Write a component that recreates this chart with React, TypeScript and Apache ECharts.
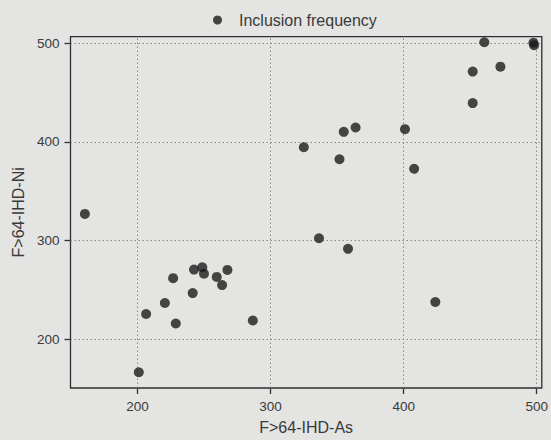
import React, { useEffect, useRef } from "react";
import * as echarts from "echarts";

// Inclusion frequency: F>64-IHD-As (x) against F>64-IHD-Ni (y)
const asValues = [
  160.5, 206.5, 201, 242.5, 248.7, 250, 226.8, 259.6, 267.6, 263.6, 241.5, 220.6, 228.8, 286.7,
  460.6, 497.5, 498, 451.9, 472.7, 451.9, 355, 363.9, 401, 325, 351.8, 407.9, 336.4, 358.2, 423.8,
];
const niValues = [
  327, 225.5, 166.5, 270.5, 272.8, 266.4, 261.8, 263.1, 270.2, 254.8, 246.7, 236.7, 215.9, 218.9,
  501, 500.5, 498, 471.2, 476.2, 439.3, 410.2, 414.6, 412.9, 394.5, 382.4, 372.7, 302.3, 291.6, 237.7,
];
const tickValues = [200, 300, 400, 500];
const seriesName = "Inclusion frequency";
const xName = "F>64-IHD-As";
const yName = "F>64-IHD-Ni";

const FONT = "'Liberation Sans', Arial, sans-serif";
const TEXT = "#3a3a3a";

export default function App() {
  const ref = useRef<HTMLDivElement>(null);

  useEffect(() => {
    document.body.style.margin = "0";
    if (!ref.current) return;
    const chart = echarts.init(ref.current, undefined, { renderer: "svg" });

    const points = asValues.map((x, i) => [x, niValues[i]]);
    const gridLines = [
      ...tickValues.map((v) => ({ xAxis: v })),
      ...tickValues.map((v) => ({ yAxis: v })),
    ];

    chart.setOption({
      animation: false,
      backgroundColor: "#e4e4e2",
      textStyle: { fontFamily: FONT },
      legend: {
        data: [seriesName],
        left: 208,
        top: 7,
        icon: "circle",
        itemWidth: 29,
        itemHeight: 9,
        itemGap: 0,
        textStyle: { fontSize: 16, color: TEXT, fontFamily: FONT, padding: [0, 0, 0, 2] },
      },
      grid: {
        left: 70.5,
        right: 5.3,
        top: 36.7,
        bottom: 49,
        show: true,
        borderColor: "#2e2e2e",
        borderWidth: 1.3,
        backgroundColor: "transparent",
      },
      xAxis: {
        type: "value",
        min: 149.7,
        max: 503.8,
        name: xName,
        nameLocation: "middle",
        nameGap: 31,
        nameTextStyle: { fontSize: 16, color: TEXT, fontFamily: FONT },
        axisLine: { show: false },
        axisTick: {
          show: true,
          customValues: tickValues,
          length: 6,
          lineStyle: { color: "#333", width: 1.3 },
        },
        axisLabel: {
          customValues: tickValues,
          fontSize: 13.5,
          color: TEXT,
          margin: 11,
          fontFamily: FONT,
        },
        splitLine: { show: false },
      },
      yAxis: {
        type: "value",
        min: 150.5,
        max: 506.6,
        name: yName,
        nameLocation: "middle",
        nameGap: 44,
        nameTextStyle: { fontSize: 16, color: TEXT, fontFamily: FONT },
        axisLine: { show: false },
        axisTick: {
          show: true,
          customValues: tickValues,
          length: 6,
          lineStyle: { color: "#333", width: 1.3 },
        },
        axisLabel: {
          customValues: tickValues,
          fontSize: 13.5,
          color: TEXT,
          margin: 11,
          fontFamily: FONT,
        },
        splitLine: { show: false },
      },
      series: [
        {
          name: seriesName,
          type: "scatter",
          data: points,
          symbol: "circle",
          symbolSize: 10,
          itemStyle: { color: "#1c1c1c" },
          markLine: {
            silent: true,
            symbol: "none",
            label: { show: false },
            lineStyle: { color: "#8a8a8a", type: [1.5, 2.5], width: 1 },
            data: gridLines,
            z: 1,
          },
          z: 3,
        },
      ],
    });

    return () => chart.dispose();
  }, []);

  return <div ref={ref} style={{ width: 551, height: 440 }} />;
}
